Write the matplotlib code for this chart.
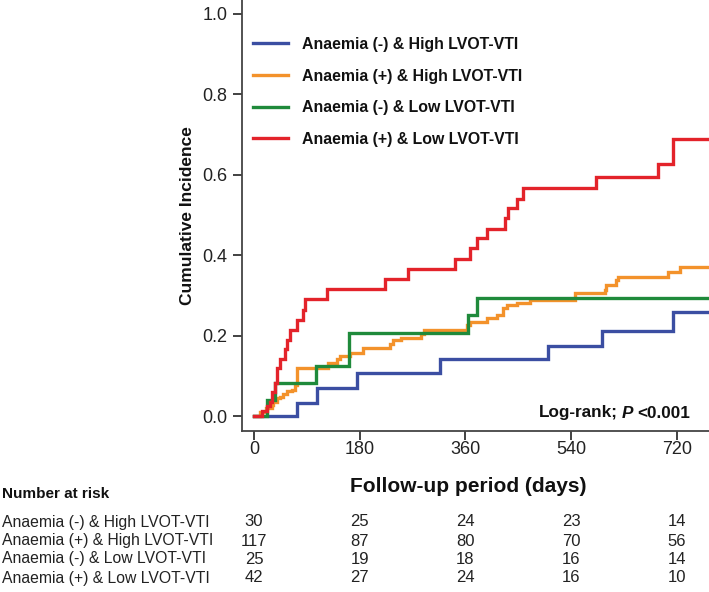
import matplotlib
matplotlib.use("Agg")
import matplotlib.pyplot as plt
import matplotlib.font_manager as fm
from matplotlib.transforms import blended_transform_factory

# ---------------- data ----------------
labels = ["Anaemia (-) & High LVOT-VTI", "Anaemia (+) & High LVOT-VTI",
          "Anaemia (-) & Low LVOT-VTI", "Anaemia (+) & Low LVOT-VTI"]
colors = ["#3b4ea2", "#f3922b", "#1f8a3b", "#e3232a"]

blue_t = [0, 73, 107, 175, 317, 501, 593, 714, 775]
blue_y = [0, 0.033, 0.069, 0.106, 0.141, 0.175, 0.211, 0.258, 0.258]

orange_t = [0, 10, 21, 30, 33, 39, 45, 50, 56, 65, 70, 73, 126, 141, 147, 163, 186,
            231, 237, 251, 285, 290, 362, 368, 396, 413, 424, 430, 447, 470, 546,
            597, 600, 617, 620, 705, 725, 775]
orange_y = [0, 0.011, 0.019, 0.028, 0.036, 0.044, 0.048, 0.055, 0.061, 0.065, 0.077,
            0.119, 0.131, 0.143, 0.149, 0.156, 0.168, 0.178, 0.189, 0.193, 0.204,
            0.214, 0.226, 0.235, 0.243, 0.252, 0.268, 0.276, 0.282, 0.289, 0.305,
            0.314, 0.326, 0.338, 0.347, 0.357, 0.370, 0.370]

green_t = [0, 22, 35, 105, 161, 365, 380, 775]
green_y = [0, 0.040, 0.081, 0.124, 0.207, 0.251, 0.294, 0.294]

red_t = [0, 10, 13, 22, 27, 30, 36, 39, 45, 53, 57, 61, 73, 84, 87, 124, 223, 263,
         342, 368, 379, 396, 427, 433, 447, 458, 583, 688, 713, 775]
red_y = [0, 0.0, 0.012, 0.024, 0.036, 0.060, 0.083, 0.119, 0.143, 0.167, 0.190,
         0.214, 0.240, 0.264, 0.290, 0.315, 0.341, 0.366, 0.391, 0.417, 0.442,
         0.465, 0.492, 0.517, 0.541, 0.566, 0.595, 0.627, 0.689, 0.689]

x_ticks = [0, 180, 360, 540, 720]
y_ticks = [0.0, 0.2, 0.4, 0.6, 0.8, 1.0]
risk_blue = [30, 25, 24, 23, 14]
risk_orange = [117, 87, 80, 70, 56]
risk_green = [25, 19, 18, 16, 14]
risk_red = [42, 27, 24, 16, 10]

# ---------------- fonts ----------------
def has_font(name):
    try:
        fm.findfont(fm.FontProperties(family=name), fallback_to_default=False)
        return True
    except Exception:
        return False

NARROW = has_font("Liberation Sans Narrow")
plt.rcParams['font.family'] = ['Liberation Sans', 'DejaVu Sans']
narrow_fam = ['Liberation Sans Narrow', 'Liberation Sans', 'DejaVu Sans']
if NARROW:
    tick_fs, table_fs, num_fs, nar_fs = 16.0, 13.7, 14.5, 13.5
    tfam = narrow_fam
else:
    tick_fs, table_fs, num_fs, nar_fs = 13.0, 11.3, 12.0, 11.0
    tfam = ['Liberation Sans', 'DejaVu Sans']

# ---------------- figure ----------------
W, H = 709, 592
fig = plt.figure(figsize=(W / 100, H / 100), dpi=100)
ax = fig.add_axes([242 / W, 1 - 431 / H, (W - 242) / W, 431 / H])

series = [(blue_t, blue_y), (orange_t, orange_y), (green_t, green_y), (red_t, red_y)]
for (t, y), c, lab in zip(series, colors, labels):
    ax.step(t, y, where='post', color=c, lw=2.4, label=lab, solid_joinstyle='miter')

ax.set_xlim(-20.4, 774.5)
ax.set_ylim(-0.0373, 1.0348)
ax.spines['top'].set_visible(False)
ax.spines['right'].set_visible(False)
for s in ['left', 'bottom']:
    ax.spines[s].set_color('#444444')
    ax.spines[s].set_linewidth(1.3)
ax.set_xticks(x_ticks)
ax.set_yticks(y_ticks)
ax.set_yticklabels([f"{v:.1f}" for v in y_ticks])
ax.tick_params(axis='both', direction='out', length=6.5, width=1.3, color='#333333',
               labelcolor='#222222', labelsize=tick_fs)
ax.tick_params(axis='x', pad=0.5)
ax.tick_params(axis='y', pad=4)
for lbl in ax.get_xticklabels() + ax.get_yticklabels():
    lbl.set_family(tfam)

ax.set_ylabel("Cumulative Incidence", fontsize=12.5, fontweight='bold', color='#111111')
ax.yaxis.set_label_coords((195 - 242) / 467, 0.5)

leg = ax.legend(loc='upper left', bbox_to_anchor=(253 / W, 1 - 37 / H),
                bbox_transform=fig.transFigure, frameon=False, borderpad=0,
                borderaxespad=0, handlelength=2.2, handletextpad=0.9,
                labelspacing=1.05, prop={'weight': 'bold', 'size': 11.4})
for txt in leg.get_texts():
    txt.set_color('#111111')

fig.text(468 / W, 1 - 487 / H, "Follow-up period (days)", fontsize=15,
         fontweight='bold', ha='center', va='center', color='#111111')

# Log-rank annotation (bold + bold italic P)
fig.canvas.draw()
r = fig.canvas.get_renderer()
ly = 1 - 413 / H
t3 = fig.text(690 / W, ly, "<0.001", fontsize=12.3, fontweight='bold',
              ha='right', va='center', color='#111111')
w3 = t3.get_window_extent(r).width
t2 = fig.text((690 - w3 - 4) / W, ly, "P", fontsize=12.3, fontweight='bold',
              style='italic', ha='right', va='center', color='#111111')
w2 = t2.get_window_extent(r).width
fig.text((690 - w3 - 4 - w2 - 4) / W, ly, "Log-rank;", fontsize=12.3,
         fontweight='bold', ha='right', va='center', color='#111111')

# Number at risk table
fig.text(2 / W, 1 - 494 / H, "Number at risk", fontsize=nar_fs, fontweight='bold',
         family=tfam, ha='left', va='center', color='#111111')
trans = blended_transform_factory(ax.transData, fig.transFigure)
rows_y = [522, 541, 559, 578]
risks = [risk_blue, risk_orange, risk_green, risk_red]
for lab, ry, vals in zip(labels, rows_y, risks):
    fig.text(2 / W, 1 - ry / H, lab, fontsize=table_fs, family=tfam,
             ha='left', va='center', color='#222222')
    for xv, v in zip(x_ticks, vals):
        ax.text(xv, 1 - ry / H, str(v), transform=trans, fontsize=num_fs,
                family=tfam, ha='center', va='center', color='#222222',
                clip_on=False)

fig.savefig("out.png", dpi=100)
